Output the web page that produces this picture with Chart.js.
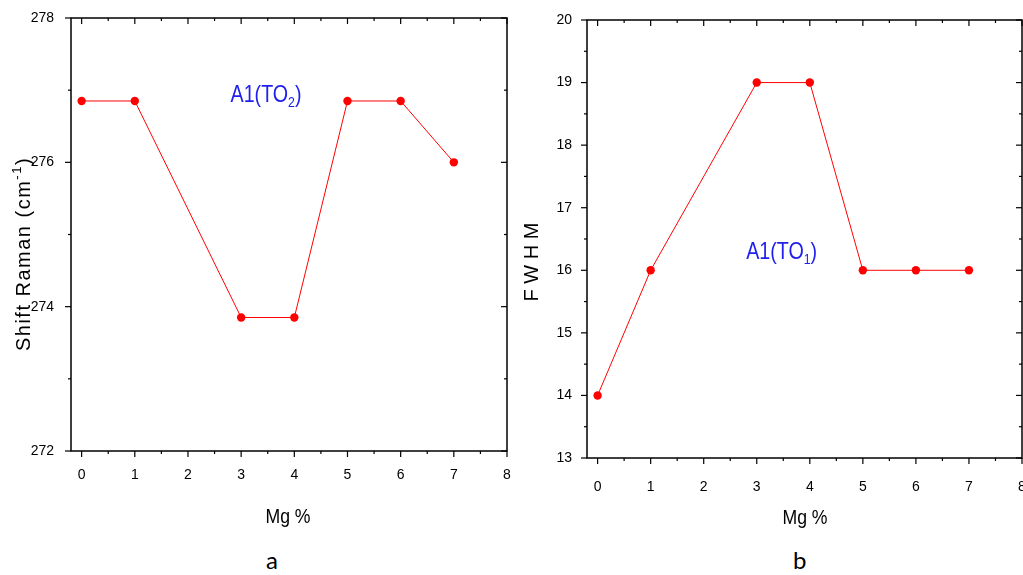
<!DOCTYPE html>
<html>
<head>
<meta charset="utf-8">
<script src="https://cdn.jsdelivr.net/npm/chart.js@4.4.0/dist/chart.umd.min.js"></script>
<style>
  body { margin: 0; background: #fff; width: 1023px; height: 575px; overflow: hidden; position: relative; }
  .box { position: absolute; top: 0; height: 540px; }
  .cap { position: absolute; font: 24px Lato, "Open Sans", sans-serif; color: #000; }
</style>
</head>
<body>
<div class="box" style="left:0;width:520px"><canvas id="chartA"></canvas></div>
<div class="box" style="left:520px;width:540px"><canvas id="chartB"></canvas></div>
<div class="cap" style="left:266px;top:545px">a</div>
<div class="cap" style="left:793px;top:545px">b</div>

<script>
// ─── Données ────────────────────────────────────────────────────────────────
const mgPercent = [0, 1, 3, 4, 5, 6, 7];
const ramanShift = [276.85, 276.85, 273.85, 273.85, 276.85, 276.85, 276.0];
const fwhm = [14, 16, 19, 19, 16, 16, 16];

const xTicks = [0, 1, 2, 3, 4, 5, 6, 7, 8];
const xMinor = [0.5, 1.5, 2.5, 3.5, 4.5, 5.5, 6.5, 7.5];
const ramanTicks = [272, 274, 276, 278];
const ramanMinor = [273, 275, 277];
const fwhmTicks = [13, 14, 15, 16, 17, 18, 19, 20];
const fwhmMinor = [13.5, 14.5, 15.5, 16.5, 17.5, 18.5, 19.5];

const SANS = "'Liberation Sans', Arial, sans-serif";
const RED = "#ff0000";
const BLUE = "#2020ee";

// texte condensé horizontalement (pas de police "narrow" disponible)
function narrowText(ctx, txt, x, y, sx) {
  ctx.save();
  ctx.translate(x, y);
  ctx.scale(sx, 1);
  ctx.fillText(txt, 0, 0);
  ctx.restore();
  return ctx.measureText(txt).width * sx;
}

// ─── Cadre + graduations (intérieures en haut/droite, extérieures en bas/gauche)
const framePlugin = {
  id: "frame",
  afterDraw(chart, args, o) {
    const { ctx, chartArea: a, scales: { x, y } } = chart;
    ctx.save();
    ctx.strokeStyle = "#000";
    ctx.lineWidth = 1.5;
    ctx.strokeRect(a.left, a.top, a.right - a.left, a.bottom - a.top);
    ctx.lineWidth = 1.2;
    const seg = (x1, y1, x2, y2) => { ctx.beginPath(); ctx.moveTo(x1, y1); ctx.lineTo(x2, y2); ctx.stroke(); };
    const xt = (vals, len) => vals.forEach(v => {
      const p = x.getPixelForValue(v);
      seg(p, a.bottom, p, a.bottom + len);
      seg(p, a.top, p, a.top + len);
    });
    const yt = (vals, len) => vals.forEach(v => {
      const p = y.getPixelForValue(v);
      seg(a.left, p, a.left - len, p);
      seg(a.right, p, a.right - len, p);
    });
    xt(o.xMajor, 6); xt(o.xMinor, 3);
    yt(o.yMajor, 6); yt(o.yMinor, 3);

    // titre axe x
    ctx.fillStyle = "#000";
    ctx.font = "21px " + SANS;
    ctx.textAlign = "center";
    ctx.textBaseline = "middle";
    narrowText(ctx, "Mg %", o.xTitle[0], o.xTitle[1], 0.84);

    // titre axe y
    ctx.save();
    ctx.translate(o.yTitle[0], o.yTitle[1]);
    ctx.rotate(-Math.PI / 2);
    ctx.letterSpacing = o.yTitleSpacing;
    const big = o.yTitleFont, small = "13px " + SANS;
    let total = 0;
    o.yTitleParts.forEach(p => { ctx.font = p.sup ? small : big; total += ctx.measureText(p.t).width; });
    let cx = -total / 2;
    ctx.textAlign = "left";
    o.yTitleParts.forEach(p => {
      ctx.font = p.sup ? small : big;
      ctx.fillText(p.t, cx, p.sup ? -7 : 0);
      cx += ctx.measureText(p.t).width;
    });
    ctx.restore();

    // annotation A1(TOn)
    const lx = x.getPixelForValue(o.label.x), ly = y.getPixelForValue(o.label.y);
    ctx.fillStyle = BLUE;
    ctx.textAlign = "left";
    ctx.font = "24px " + SANS;
    let w = narrowText(ctx, "A1(TO", lx, ly, 0.82);
    ctx.font = "15px " + SANS;
    w += narrowText(ctx, o.label.sub, lx + w, ly + 8, 0.82);
    ctx.font = "24px " + SANS;
    narrowText(ctx, ")", lx + w, ly, 0.82);
    ctx.restore();
  }
};

function makeChart(id, values, yMin, yMax, yTicks, yMinor, cfg) {
  return new Chart(document.getElementById(id), {
    type: "line",
    data: {
      datasets: [{
        data: mgPercent.map((m, i) => ({ x: m, y: values[i] })),
        borderColor: RED,
        borderWidth: 1,
        backgroundColor: RED,
        pointRadius: 4.2,
        pointBorderWidth: 0,
        pointBackgroundColor: RED,
        tension: 0,
      }],
    },
    options: {
      responsive: true,
      maintainAspectRatio: false,
      animation: false,
      layout: { padding: cfg.padding },
      plugins: {
        legend: { display: false },
        tooltip: { enabled: false },
        frame: {
          xMajor: xTicks, xMinor: xMinor, yMajor: yTicks, yMinor: yMinor,
          xTitle: cfg.xTitle, yTitle: cfg.yTitle,
          yTitleParts: cfg.yTitleParts, yTitleFont: cfg.yTitleFont, yTitleSpacing: cfg.yTitleSpacing,
          label: cfg.label,
        },
      },
      scales: {
        x: {
          type: "linear",
          min: -0.2, max: 8,
          afterFit: s => { s.height = cfg.xHeight; },
          afterBuildTicks: s => { s.ticks = xTicks.map(v => ({ value: v })); },
          grid: { display: false },
          border: { display: false },
          ticks: { color: "#000", font: { family: SANS, size: 14 }, padding: cfg.xPad, maxRotation: 0, autoSkip: false },
        },
        y: {
          min: yMin, max: yMax,
          afterFit: s => { s.width = cfg.yWidth; },
          afterBuildTicks: s => { s.ticks = yTicks.map(v => ({ value: v })); },
          grid: { display: false },
          border: { display: false },
          ticks: { color: "#000", font: { family: SANS, size: 14 }, padding: cfg.yPad, autoSkip: false },
        },
      },
    },
    plugins: [framePlugin],
  });
}

makeChart("chartA", ramanShift, 272, 278, ramanTicks, ramanMinor, {
  padding: { top: 18, right: 13, left: 0, bottom: 0 },
  xHeight: 89, yWidth: 71, xPad: 8, yPad: 9,
  xTitle: [288, 517],
  yTitle: [24, 254],
  yTitleFont: "20px " + SANS,
  yTitleSpacing: "1.5px",
  yTitleParts: [{ t: "Shift Raman (cm" }, { t: "-1", sup: true }, { t: ")" }],
  label: { x: 2.8, y: 276.93, sub: "2" },
});

makeChart("chartB", fwhm, 13, 20, fwhmTicks, fwhmMinor, {
  padding: { top: 20, right: 38, left: 0, bottom: 0 },
  xHeight: 82, yWidth: 67, xPad: 13, yPad: 7,
  xTitle: [285, 518],
  yTitle: [12, 262],
  yTitleFont: "20px " + SANS,
  yTitleSpacing: "0px",
  yTitleParts: [{ t: "F W H M" }],
  label: { x: 2.8, y: 16.29, sub: "1" },
});
</script>
</body>
</html>
